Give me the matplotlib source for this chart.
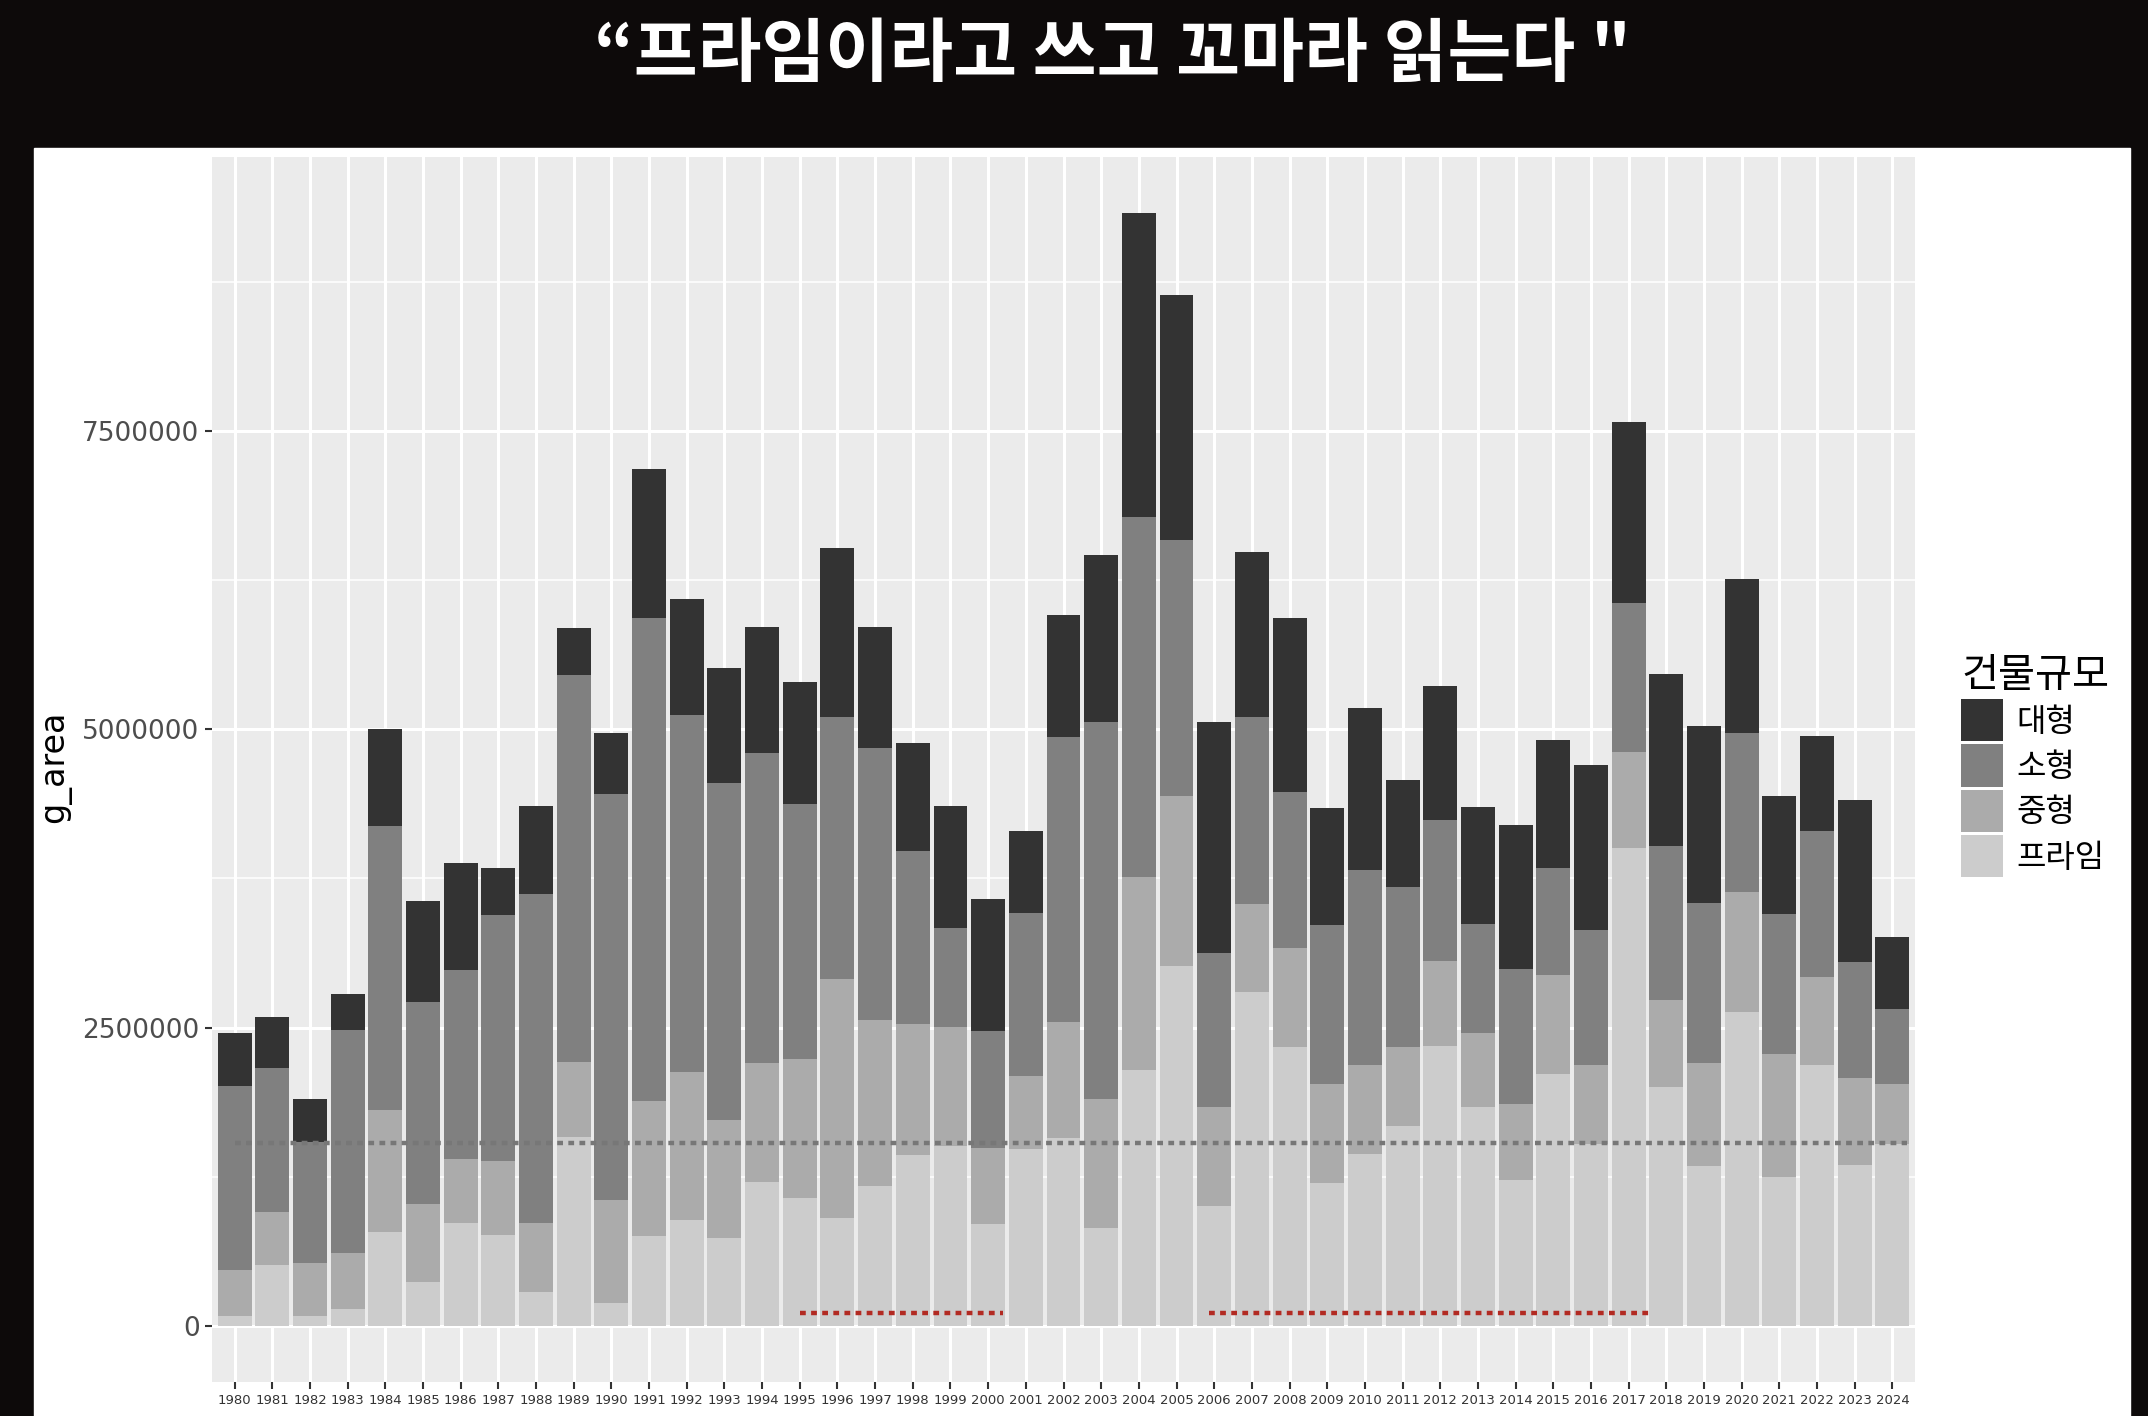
# Stacked bars of g_area by building size, 1980-2024,
# ggplot-like grey theme on a black slide background.

import numpy as np
import matplotlib
matplotlib.use('Agg')
import matplotlib.pyplot as plt
from matplotlib.patches import Rectangle

plt.rcParams['font.family'] = ['Noto Sans CJK KR', 'DejaVu Sans']

# Data
years = [str(y) for y in range(1980, 2025)]
prime = [0.085, 0.507, 0.086, 0.141, 0.79, 0.37, 0.858, 0.762, 0.286, 1.58,
         0.188, 0.752, 0.886, 0.74, 1.206, 1.07, 0.905, 1.172, 1.434, 1.51,
         0.85, 1.485, 1.577, 0.82, 2.148, 3.012, 1.007, 2.8, 2.334, 1.2,
         1.44, 1.678, 2.346, 1.831, 1.225, 2.111, 1.527, 4.006, 1.998, 1.342,
         2.626, 1.25, 2.189, 1.346, 1.52]
mid = [0.38, 0.447, 0.444, 0.469, 1.022, 0.652, 0.543, 0.62, 0.576, 0.632,
       0.87, 1.13, 1.238, 0.985, 0.998, 1.163, 2.0, 1.391, 1.095, 0.994,
       0.64, 0.605, 0.973, 1.079, 1.614, 1.432, 0.824, 0.732, 0.831, 0.824,
       0.745, 0.656, 0.714, 0.621, 0.637, 0.833, 0.662, 0.807, 0.736, 0.862,
       1.011, 1.026, 0.734, 0.729, 0.51]
small = [1.545, 1.204, 1.01, 1.87, 2.38, 1.69, 1.583, 2.061, 2.754, 3.24,
         3.402, 4.053, 2.994, 2.823, 2.593, 2.142, 2.201, 2.282, 1.454, 0.826,
         0.978, 1.37, 2.385, 3.165, 3.016, 2.142, 1.291, 1.57, 1.305, 1.334,
         1.639, 1.341, 1.179, 0.918, 1.125, 0.893, 1.13, 1.244, 1.288, 1.336,
         1.335, 1.172, 1.228, 0.977, 0.626]
large = [0.44, 0.428, 0.357, 0.30, 0.808, 0.848, 0.896, 0.395, 0.737, 0.394,
         0.51, 1.245, 0.977, 0.964, 1.059, 1.018, 1.416, 1.012, 0.901, 1.028,
         1.106, 0.689, 1.021, 1.397, 2.551, 2.055, 1.942, 1.384, 1.464, 0.981,
         1.352, 0.9, 1.123, 0.981, 1.207, 1.069, 1.381, 1.519, 1.439, 1.49,
         1.285, 0.99, 0.79, 1.351, 0.601]
# values above are in millions
prime = np.array(prime) * 1e6
mid = np.array(mid) * 1e6
small = np.array(small) * 1e6
large = np.array(large) * 1e6

ref_level = 1535000      # grey dotted reference line
red_level = 105000       # red dotted markers

# Colours
col_large = '#333333'
col_small = '#808080'
col_mid = '#ababab'
col_prime = '#cccccc'

W, H = 2148, 1416
fig = plt.figure(figsize=(W / 100, H / 100), dpi=100, facecolor='#0d0a0a')

# White slide area
fig.add_artist(Rectangle((34 / W, 0), (2130 - 34) / W, 1 - 148 / H,
                         transform=fig.transFigure, color='white', zorder=0))

# Title
fig.text(1112 / W, 1 - 56 / H, '\u201c프라임이라고 쓰고 꼬마라 읽는다 "',
         color='white', fontsize=50, fontweight='bold',
         ha='center', va='center')

ax = fig.add_axes([212 / W, 34.5 / H, 1703 / W, (1381.5 - 157) / H])
ax.set_facecolor('#ebebeb')
for s in ax.spines.values():
    s.set_visible(False)

x = np.arange(len(years))
w = 0.9
b_prime = ax.bar(x, prime, w, color=col_prime, label='프라임', zorder=2)
b_mid = ax.bar(x, mid, w, bottom=prime, color=col_mid, label='중형', zorder=2)
b_small = ax.bar(x, small, w, bottom=prime + mid, color=col_small,
                 label='소형', zorder=2)
b_large = ax.bar(x, large, w, bottom=prime + mid + small, color=col_large,
                 label='대형', zorder=2)

# Dotted lines
ax.hlines(ref_level, 0, len(years) - 0.6, colors='#777777', linewidth=3.2,
          linestyles=(0, (1.3, 1.2)), zorder=3)
red_x = [(years.index('1995'), years.index('2000') + 0.4),
         (years.index('2006') - 0.15, years.index('2017') + 0.6)]
for a, b in red_x:
    ax.hlines(red_level, a, b, colors='#b22a22', linewidth=3.2,
              linestyles=(0, (1.3, 1.2)), zorder=3)

total = prime + mid + small + large
ax.set_xlim(-0.6, len(years) - 0.4)
ax.set_ylim(-0.05 * total.max(), total.max() * 1.05)

ax.set_xticks(x)
ax.set_xticklabels(years, fontsize=9.5, color='#333333', family='DejaVu Sans')
ax.set_yticks([0, 2500000, 5000000, 7500000])
ax.set_yticklabels(['0', '2500000', '5000000', '7500000'], fontsize=19,
                   color='#4d4d4d', family='DejaVu Sans')
ax.set_yticks([1250000, 3750000, 6250000, 8750000], minor=True)
ax.tick_params(axis='both', which='major', length=5, width=1.5,
               color='#333333', pad=4)
ax.tick_params(axis='y', which='minor', length=0)
ax.grid(True, which='major', color='white', linewidth=2.2, zorder=0)
ax.grid(True, which='minor', axis='y', color='white', linewidth=1.1, zorder=0)
ax.set_axisbelow(True)

fig.text(55 / W, 1 - 767 / H, 'g_area', rotation=90, fontsize=24,
         color='black', ha='center', va='center', family='DejaVu Sans')

leg = fig.legend(handles=[b_large, b_small, b_mid, b_prime],
                 labels=['대형', '소형', '중형', '프라임'],
                 title='건물규모', loc='upper left',
                 bbox_to_anchor=(1961 / W, 1 - 655 / H), borderpad=0,
                 borderaxespad=0,
                 fontsize=23, title_fontsize=29, frameon=False,
                 handlelength=1.3, handleheight=1.65, labelspacing=0.1,
                 handletextpad=0.44, alignment='left')

fig.savefig('out.png', dpi=100, facecolor=fig.get_facecolor())
